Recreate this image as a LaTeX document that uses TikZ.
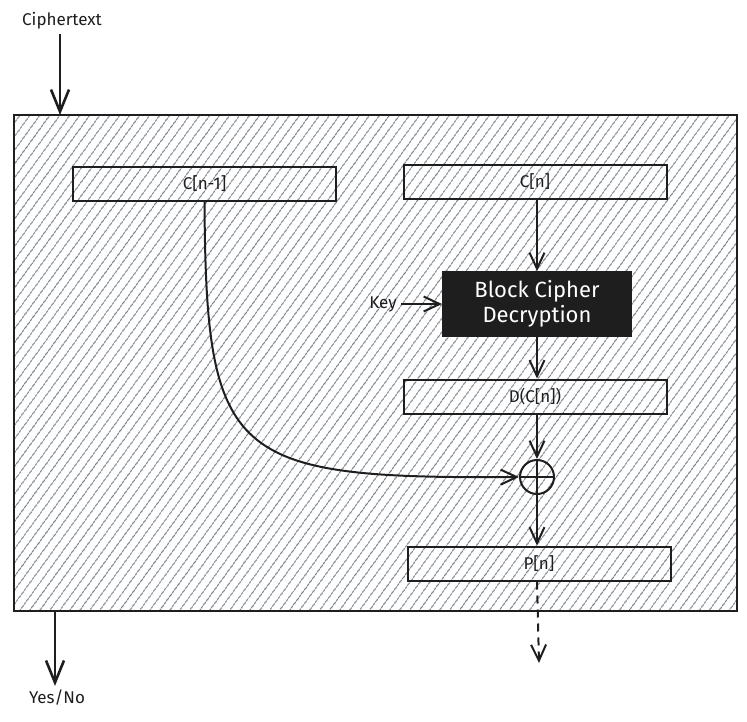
\documentclass[tikz,border=0pt]{standalone}
\usepackage{fontspec}
\setmainfont{Fira Sans}
\usetikzlibrary{arrows.meta,patterns.meta,positioning}

\definecolor{hatch}{RGB}{120,128,138}
\definecolor{ink}{RGB}{30,30,30}

\begin{document}
\begin{tikzpicture}[x=1pt,y=-1pt, line width=2pt, color=ink,
  every node/.style={font=\fontsize{17}{20}\selectfont, text=ink},
  blk/.style={draw, minimum width=263pt, minimum height=34pt, inner sep=0pt},
  arr/.style={-{Straight Barb[length=16pt,width=15pt]}},
  bigarr/.style={line width=2.6pt, -{Straight Barb[length=22pt,width=18pt]}}]
  \useasboundingbox (0,0) rectangle (747,721);
  % hatched frame
  \draw[line width=2.8pt, pattern={Lines[angle=54,distance=7.4pt,line width=1.1pt]},
        pattern color=hatch] (14,115) rectangle (737,611);
  \node (ctext) at (62,21) {Ciphertext};
  \node (yesno) at (57,698) {Yes/No};
  \coordinate (cin) at (60,115);
  \coordinate (cout) at (55,611);
  \coordinate (pout) at (539,663);
  \node[blk] (cprev) at (204.5,183.5) {C[n-1]};
  \node[blk] (ccur) at (535,182) {C[n]};
  \node[draw, fill=ink, text=white, minimum width=188pt, minimum height=64pt,
        align=center, font=\fontsize{22}{25}\selectfont] (dec) at (537,304)
        {Block Cipher\\Decryption};
  \node (key) at (383,304) {Key};
  \node[blk] (dc) at (535,396.5) {D(C[n])};
  \node[draw, circle, minimum size=34pt, inner sep=0pt] (xor) at (537,477) {};
  \draw (xor.north) -- (xor.south) (xor.west) -- (xor.east);
  \node[blk] (pn) at (539,563.5) {P[n]};
  % connectors
  \draw[bigarr] (ctext.south -| cin) -- (cin);
  \draw[bigarr] (cout) -- (yesno.north -| cout);
  \draw[arr] (key) -- (dec);
  \draw[arr] (ccur.south -| dec.north) -- (dec.north);
  \draw[arr] (dec.south) -- (dc.north -| dec.south);
  \draw[arr] (dc.south -| xor.north) -- (xor.north);
  \draw[arr] (xor.south) -- (pn.north -| xor.south);
  \draw[arr] (cprev.south) .. controls (206,460) and (230,479) .. (xor.west);
  \draw[arr, dash pattern=on 8pt off 6pt] (pn.south -| xor.south) -- (pout);
\end{tikzpicture}
\end{document}
